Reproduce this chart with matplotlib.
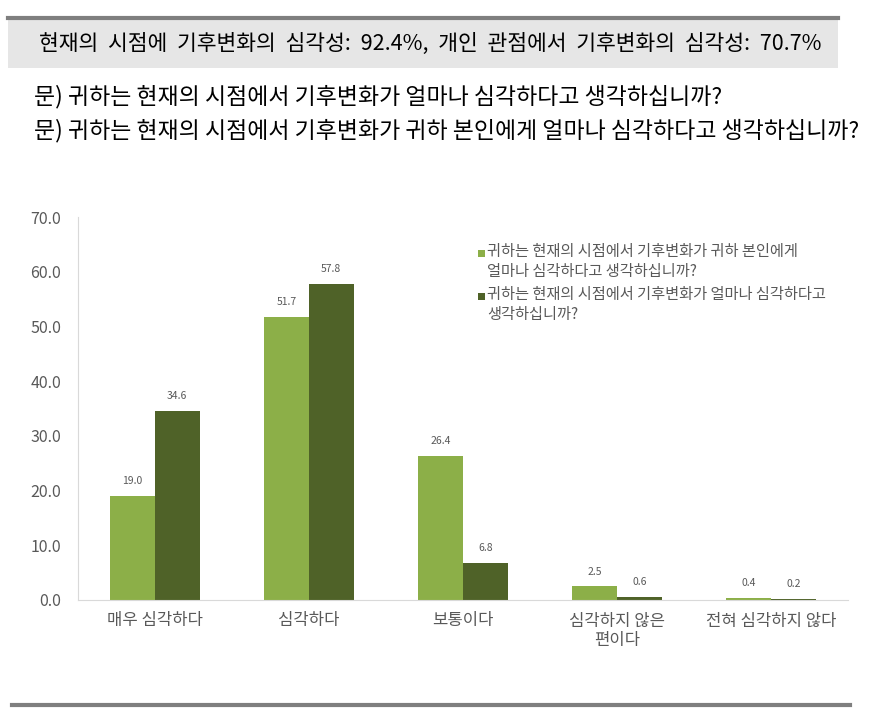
import matplotlib
matplotlib.use("Agg")
import matplotlib.pyplot as plt
import numpy as np
from matplotlib.patches import Rectangle
from matplotlib.lines import Line2D

plt.rcParams['font.family'] = ['Noto Sans CJK KR', 'DejaVu Sans']

categories = ["매우 심각하다", "심각하다", "보통이다", "심각하지 않은\n편이다", "전혀 심각하지 않다"]
series_personal = [19.0, 51.7, 26.4, 2.5, 0.4]
series_present = [34.6, 57.8, 6.8, 0.6, 0.2]
legend_labels = ["귀하는 현재의 시점에서 기후변화가 귀하 본인에게\n얼마나 심각하다고 생각하십니까?",
                 "귀하는 현재의 시점에서 기후변화가 얼마나 심각하다고\n생각하십니까?"]
yticks = [0, 10, 20, 30, 40, 50, 60, 70]

header = "현재의  시점에  기후변화의  심각성:  92.4%,  개인  관점에서  기후변화의  심각성:  70.7%"
q1 = "문) 귀하는 현재의 시점에서 기후변화가 얼마나 심각하다고 생각하십니까?"
q2 = "문) 귀하는 현재의 시점에서 기후변화가 귀하 본인에게 얼마나 심각하다고 생각하십니까?"

c_light = "#8CAF48"
c_dark = "#4F6228"
txt_gray = "#595959"

W, H = 875, 716
fig = plt.figure(figsize=(W/100, H/100), dpi=100)

def fx(x): return x / W
def fy(y): return 1 - y / H

# header box
fig.patches.append(Rectangle((fx(8), fy(68)), fx(838) - fx(8), fy(19) - fy(68),
                             transform=fig.transFigure, facecolor="#E6E6E6", edgecolor="none"))
fig.lines.append(Line2D([fx(8), fx(838)], [fy(18), fy(18)], transform=fig.transFigure,
                        color="#7F7F7F", lw=3))
fig.lines.append(Line2D([fx(12), fx(850)], [fy(705), fy(705)], transform=fig.transFigure,
                        color="#7F7F7F", lw=3))
fig.text(fx(39), fy(44), header, fontsize=15.5, va="center", ha="left", color="#000000")
fig.text(fx(34), fy(97), q1, fontsize=16.5, va="center", ha="left", color="#000000")
fig.text(fx(34), fy(131), q2, fontsize=16.5, va="center", ha="left", color="#000000")

ax = fig.add_axes([fx(78), fy(600), fx(848) - fx(78), fy(217) - fy(600)])
x = np.arange(len(categories))
bw = 0.29
b1 = ax.bar(x - bw/2, series_personal, bw, color=c_light, label=legend_labels[0])
b2 = ax.bar(x + bw/2, series_present, bw, color=c_dark, label=legend_labels[1])
for bars in (b1, b2):
    for r in bars:
        ax.annotate(f"{r.get_height():.1f}", (r.get_x() + r.get_width()/2, r.get_height()),
                    xytext=(0, 7), textcoords="offset points", ha="center", va="bottom",
                    fontsize=7.5, color=txt_gray)

ax.set_xlim(-0.5, len(categories) - 0.5)
ax.set_ylim(0, 70)
ax.set_yticks(yticks)
ax.set_yticklabels([f"{v:.1f}" for v in yticks], fontsize=11.5, color=txt_gray)
ax.set_xticks(x)
ax.set_xticklabels(categories, fontsize=12, color=txt_gray, linespacing=1.2)
ax.tick_params(axis="both", length=0)
ax.tick_params(axis="y", pad=12)
ax.tick_params(axis="x", pad=9)
for s in ("top", "right"):
    ax.spines[s].set_visible(False)
ax.spines["left"].set_color("#D9D9D9")
ax.spines["bottom"].set_color("#D9D9D9")

# legend (drawn manually so the swatch aligns with the first line of each entry)
leg_rows = [253, 296]
for lab, col, yy in zip(legend_labels, [c_light, c_dark], leg_rows):
    fig.patches.append(Rectangle((fx(478), fy(yy + 4)), fx(485) - fx(478), fy(yy - 3) - fy(yy + 4),
                                 transform=fig.transFigure, facecolor=col, edgecolor="none"))
    fig.text(fx(487), fy(yy - 10), lab, fontsize=11, va="top", ha="left", color=txt_gray,
             linespacing=1.25)

fig.savefig("out.png", dpi=100)
